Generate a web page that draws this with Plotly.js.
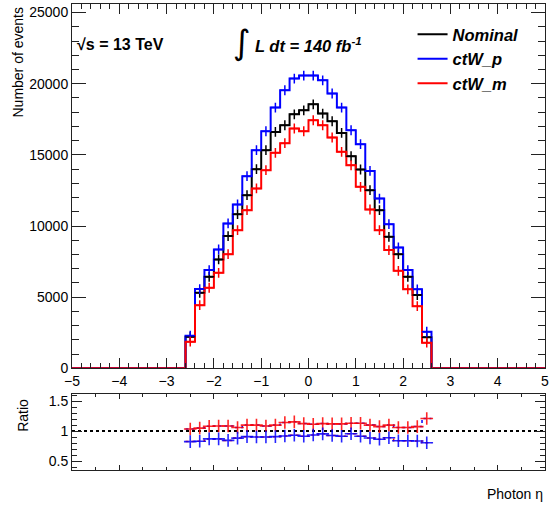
<!DOCTYPE html>
<html>
<head>
<meta charset="utf-8">
<script src="https://cdn.plot.ly/plotly-3.0.1.min.js"></script>
<style>html,body{margin:0;padding:0;background:#fff;}#chart{width:552px;height:511px;}</style>
</head>
<body>
<div id="chart"></div>
<script>
// ---- data ----
const etaCenters = [-2.5,-2.3,-2.1,-1.9,-1.7,-1.5,-1.3,-1.1,-0.9,-0.7,-0.5,-0.3,-0.1,0.1,0.3,0.5,0.7,0.9,1.1,1.3,1.5,1.7,1.9,2.1,2.3,2.5];
const binWidth = 0.2;
const xRange = [-5, 5];
const nominal = [2220,5310,6430,7650,9290,10830,12170,13990,15330,16610,17080,17850,18130,18550,17900,17360,16540,14900,13970,12520,11110,9240,8020,6430,5150,2180];
const ctW_p  = [2290,5570,6900,8350,10180,11510,13500,15330,16660,18320,19540,20360,20570,20570,20240,19310,18320,16730,15750,13870,11930,10130,8490,6900,5550,2570];
const ctW_m  = [1870,4440,5660,6710,8020,9710,11110,12640,13920,15140,15820,16850,16660,17430,17080,16220,15210,14270,12750,11160,9710,8310,6850,5550,4370,1800];
const ratioUpper = [1.035,1.05,1.08,1.085,1.085,1.06,1.10,1.10,1.085,1.10,1.145,1.155,1.125,1.115,1.125,1.12,1.12,1.13,1.13,1.10,1.075,1.10,1.06,1.06,1.075,1.21];
const ratioLower = [0.825,0.83,0.87,0.87,0.845,0.883,0.907,0.902,0.902,0.907,0.918,0.93,0.913,0.935,0.954,0.927,0.913,0.956,0.913,0.886,0.864,0.888,0.84,0.84,0.834,0.805];
const seriesNames = ['Nominal','ctW_p','ctW_m'];
const seriesColors = ['#000000','#0000ff','#ff0000'];

// ---- helpers ----
const edges = etaCenters.map(c => c - binWidth/2).concat([etaCenters[etaCenters.length-1] + binWidth/2]);
function histStep(vals){
  return { x: [xRange[0]].concat(edges, [xRange[1]]), y: [0].concat(vals, [0, 0]) };
}
function ratioStep(vals){
  return { x: edges.slice(), y: vals.concat([vals[vals.length-1]]) };
}
const FONT = 'Liberation Sans, Arial, Helvetica, sans-serif';
const traces = [];
const allSeries = [nominal, ctW_p, ctW_m];
allSeries.forEach((vals, i) => {
  const s = histStep(vals);
  traces.push({type:'scatter', mode:'lines', x:s.x, y:s.y, line:{shape:'hv', color:seriesColors[i], width:2},
    name:'<b><i>'+seriesNames[i]+'</i></b>', showlegend:true, xaxis:'x', yaxis:'y', hoverinfo:'skip'});
});
allSeries.forEach((vals, i) => {
  traces.push({type:'scatter', mode:'markers', x:etaCenters, y:vals,
    marker:{symbol:'cross-thin', size:7, line:{color:seriesColors[i], width:1.5}},
    showlegend:false, xaxis:'x', yaxis:'y', hoverinfo:'skip'});
});
// ratio panel
traces.push({type:'scatter', mode:'lines', x:xRange, y:[1,1], line:{color:'#000', width:2, dash:'dot'}, showlegend:false, xaxis:'x2', yaxis:'y2', hoverinfo:'skip'});
const ru = ratioStep(ratioUpper), rl = ratioStep(ratioLower);
traces.push({type:'scatter', mode:'lines', x:ru.x, y:ru.y, line:{shape:'hv', color:'#0000ff', width:1.5, dash:'dot'}, showlegend:false, xaxis:'x2', yaxis:'y2', hoverinfo:'skip'});
traces.push({type:'scatter', mode:'lines', x:rl.x, y:rl.y, line:{shape:'hv', color:'#ff0000', width:1.5, dash:'dot'}, showlegend:false, xaxis:'x2', yaxis:'y2', hoverinfo:'skip'});
traces.push({type:'scatter', mode:'markers', x:etaCenters, y:ratioUpper, marker:{symbol:'cross-thin', size:9, line:{color:'rgba(255,0,0,0.85)', width:1.6}}, showlegend:false, xaxis:'x2', yaxis:'y2', hoverinfo:'skip'});
traces.push({type:'scatter', mode:'markers', x:etaCenters, y:ratioLower, marker:{symbol:'cross-thin', size:9, line:{color:'rgba(0,0,255,0.85)', width:1.6}}, showlegend:false, xaxis:'x2', yaxis:'y2', hoverinfo:'skip'});

const axBase = {showline:true, linecolor:'#222', linewidth:1, mirror:'allticks', zeroline:false, showgrid:false,
  ticks:'inside', tickcolor:'#222', tickfont:{family:FONT, size:14, color:'#000'}};

const layout = {
  width:552, height:511,
  margin:{l:72, r:7, t:4, b:41},
  paper_bgcolor:'#fff', plot_bgcolor:'#fff',
  font:{family:FONT, color:'#000'},
  showlegend:true,
  legend:{x:0.72, y:0.972, xanchor:'left', yanchor:'top', bgcolor:'rgba(0,0,0,0)', borderwidth:0,
    font:{family:FONT, size:16.5, color:'#000'}, itemwidth:30, tracegroupgap:0},
  xaxis: Object.assign({}, axBase, {anchor:'y', range:xRange, dtick:1, tick0:0, ticklen:10,
    minor:{ticks:'inside', dtick:0.2, ticklen:5, tickcolor:'#222'}}),
  yaxis: Object.assign({}, axBase, {anchor:'x', domain:[0.2182, 1], range:[0, 25600], dtick:5000, tick0:0, ticklen:14,
    tickformat:'d', minor:{ticks:'inside', dtick:1000, ticklen:7, tickcolor:'#222'}}),
  xaxis2: Object.assign({}, axBase, {anchor:'y2', range:xRange, dtick:2, tick0:0, ticklen:5, showticklabels:false,
    minor:{ticks:'inside', dtick:0.5, ticklen:3, tickcolor:'#222'}}),
  yaxis2: Object.assign({}, axBase, {anchor:'x2', domain:[0, 0.1631], range:[0.35, 1.62], tickvals:[0.5,1,1.5], ticktext:['0.5','1','1.5'], ticklen:10,
    minor:{ticks:'inside', dtick:0.1, ticklen:5, tickcolor:'#222'}}),
  annotations:[
    {xref:'paper', yref:'paper', x:0.0063, y:0.914, xanchor:'left', yanchor:'middle', showarrow:false,
      text:'<b>√s = 13 TeV</b>', font:{family:FONT, size:16, color:'#000'}},
    {xref:'paper', yref:'paper', x:0.359, y:0.918, xanchor:'center', yanchor:'middle', showarrow:false,
      text:'∫', font:{family:'DejaVu Sans, '+FONT, size:34, color:'#000'}},
    {xref:'paper', yref:'paper', x:0.3827, y:0.912, xanchor:'left', yanchor:'middle', showarrow:false,
      text:'<b><i>L dt = 140 fb<sup>-1</sup></i></b>', font:{family:FONT, size:16.5, color:'#000'}},
    {xref:'paper', yref:'paper', x:-0.114, y:0.998, xanchor:'center', yanchor:'top', showarrow:false, textangle:-90,
      text:'Number of events', font:{family:FONT, size:14, color:'#000'}},
    {xref:'paper', yref:'paper', x:-0.104, y:0.118, xanchor:'center', yanchor:'middle', showarrow:false, textangle:-90,
      text:'Ratio', font:{family:FONT, size:14, color:'#000'}},
    {xref:'paper', yref:'paper', x:1.0, y:-0.0515, xanchor:'right', yanchor:'middle', showarrow:false,
      text:'Photon η', font:{family:FONT, size:14, color:'#000'}}
  ]
};
Plotly.newPlot('chart', traces, layout, {staticPlot:true, displayModeBar:false});
</script>
</body>
</html>
